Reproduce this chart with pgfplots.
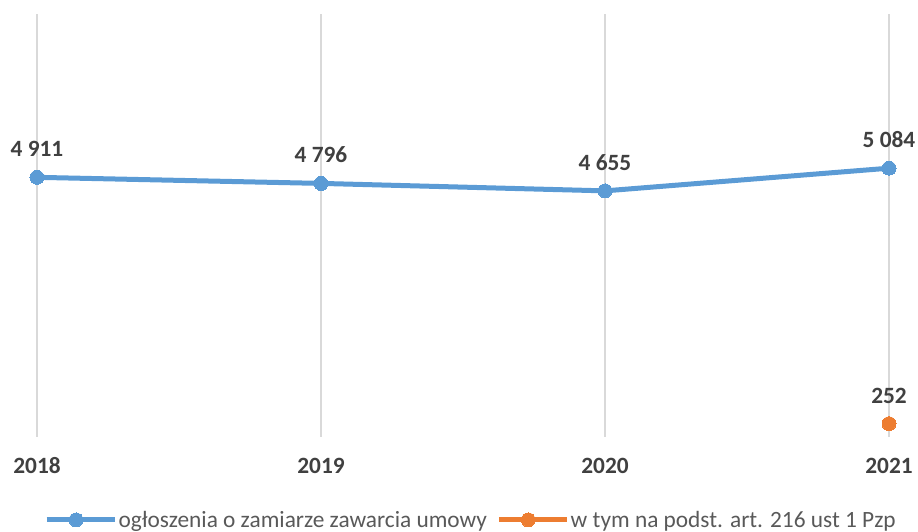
\documentclass[border=0pt]{standalone}
\usepackage{pgfplots}
\pgfplotsset{compat=1.18}
\usepackage{fontspec}
\setmainfont{Carlito}
\definecolor{sblue}{HTML}{5B9BD5}
\definecolor{sorange}{HTML}{ED7D31}
\definecolor{lbl}{HTML}{404040}
\definecolor{leg}{HTML}{595959}
\definecolor{grd}{HTML}{D9D9D9}
\begin{document}
\begin{tikzpicture}
\useasboundingbox (0,0) rectangle (688.5pt,399pt);
\begin{axis}[
  at={(27.75pt,71.25pt)}, anchor=south west,
  scale only axis, width=639pt, height=317.25pt,
  xmin=0, xmax=3, ymin=0, ymax=8000,
  clip=false,
  axis line style={draw=none},
  major tick length=0,
  ytick=\empty,
  xtick={0,1,2,3},
  xticklabels={2018,2019,2020,2021},
  xticklabel style={font=\fontsize{17.5}{20}\selectfont\bfseries, text=lbl, yshift=-12pt},
  xmajorgrids,
  major grid style={grd, line width=1.5pt},
  nodes near coords,
  point meta=explicit symbolic,
  every node near coord/.append style={font=\fontsize{17.5}{20}\selectfont\bfseries, text=lbl, yshift=12pt},
  legend columns=2,
  legend style={at={(0.509,-0.196)}, anchor=center, draw=none, fill=none,
    font=\fontsize{17.5}{20}\selectfont, text=leg,
    nodes={inner xsep=1pt},
    /tikz/every odd column/.append style={column sep=0pt},
    /tikz/every even column/.append style={column sep=6pt}},
  legend image code/.code={\draw[#1,mark repeat=2,mark phase=2] plot coordinates {(0pt,0pt)(22pt,0pt)(51pt,0pt)};},
]
\addplot[sblue, line width=3.75pt, mark=*, mark size=5.25pt, mark options={line width=0pt}]
  coordinates {(0,4911)[4 911] (1,4796)[4 796] (2,4655)[4 655] (3,5084)[5 084]};
\addlegendentry{ogłoszenia o zamiarze zawarcia umowy}
\addplot[sorange, line width=3.75pt, mark=*, mark size=5.25pt, mark options={line width=0pt}]
  coordinates {(3,252)[252]};
\addlegendentry{w tym na podst. art. 216 ust 1 Pzp}
\end{axis}
\end{tikzpicture}
\end{document}
